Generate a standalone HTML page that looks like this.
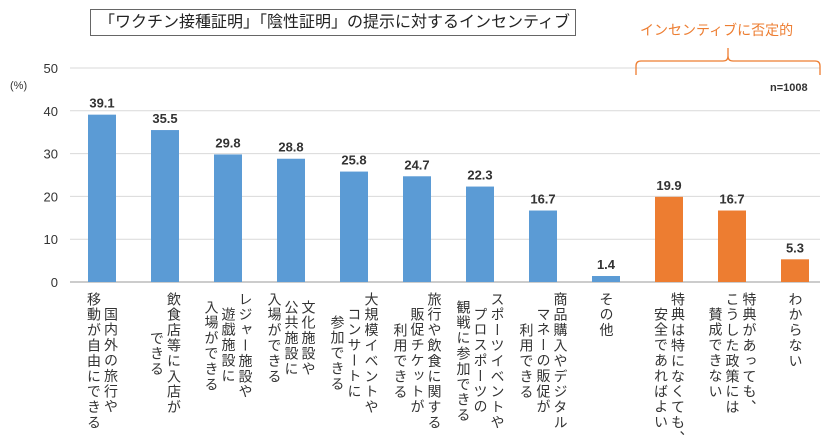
<!DOCTYPE html>
<html><head><meta charset="utf-8">
<style>
body{margin:0;background:#fff;}
#c{position:relative;width:840px;height:445px;overflow:hidden;font-family:"Liberation Sans","Noto Sans CJK JP",sans-serif;color:#333;}
.xl{position:absolute;top:292px;writing-mode:vertical-rl;text-orientation:upright;font-size:14px;line-height:17px;text-align:center;color:#333;letter-spacing:1.4px;transform:translateX(-50%);white-space:nowrap;}
</style></head><body>
<div id="c">
<div style="position:absolute;left:90px;top:9px;width:486px;height:27px;border:1px solid #666;box-sizing:border-box;font-size:16px;line-height:25px;padding-left:8px;color:#222;">「ワクチン接種証明」「陰性証明」の提示に対するインセンティブ</div>
<div style="position:absolute;left:640px;top:20px;font-size:14px;color:#ED7D31;">インセンティブに否定的</div>
<div style="position:absolute;left:10px;top:80px;font-size:11px;color:#333;">(%)</div>
<div style="position:absolute;left:770px;top:82px;font-size:11px;font-weight:bold;color:#333;">n=1008</div>
<svg id="svg" width="840" height="445" style="position:absolute;left:0;top:0"></svg>
</div>
<script>
const categories=["国内外の旅行や\n移動が自由にできる","飲食店等に入店が\nできる","レジャー施設や\n遊戯施設に\n入場ができる","文化施設や\n公共施設に\n入場ができる","大規模イベントや\nコンサートに\n参加できる","旅行や飲食に関する\n販促チケットが\n利用できる","スポーツイベントや\nプロスポーツの\n観戦に参加できる","商品購入やデジタル\nマネーの販促が\n利用できる","その他","特典は特になくても、\n安全であればよい","特典があっても、\nこうした政策には\n賛成できない","わからない"];
const values=[39.1,35.5,29.8,28.8,25.8,24.7,22.3,16.7,1.4,19.9,16.7,5.3];
const negative=[0,0,0,0,0,0,0,0,0,1,1,1];
const yTicks=[0,10,20,30,40,50];
const NS="http://www.w3.org/2000/svg";
const svg=document.getElementById('svg');
const c=document.getElementById('c');
const y0=282,yTop=68,yMax=50;
function ys(v){return y0-(v/yMax)*(y0-yTop);}
function xs(i){return 102+i*63;}
function mk(t,a){const e=document.createElementNS(NS,t);for(const k in a)e.setAttribute(k,a[k]);svg.appendChild(e);return e;}
yTicks.forEach(t=>{
  const g=mk('line',{x1:70,x2:820,y1:ys(t),y2:ys(t),stroke:t===0?'#999':'#d9d9d9','stroke-width':1});
  
  
  const tx=mk('text',{x:58,y:ys(t)+5,'text-anchor':'end','font-size':13,fill:'#333'});
  tx.textContent=t;
  
  
});
values.forEach((v,i)=>{
  const r=mk('rect',{x:xs(i)-14,y:ys(v),width:28,height:y0-ys(v),fill:negative[i]?'#ED7D31':'#5B9BD5'});
  
  
  const t=mk('text',{x:xs(i),y:ys(v)-7,'text-anchor':'middle','font-size':13,'font-weight':'bold',fill:'#333'});
  t.textContent=v.toFixed(1);
  
  
  const d=document.createElement('div');
  d.className='xl';
  d.style.left=xs(i)+'px';
  d.innerHTML=categories[i].replace(/\n/g,'<br>');
  
  
  c.appendChild(d);
});
const first=negative.indexOf(1),last=negative.lastIndexOf(1);
const bx1=xs(first)-33,bx2=xs(last)+25,mid=(bx1+bx2)/2;
const br=mk('path',{d:`M${bx1},75 L${bx1},66 Q${bx1},61 ${bx1+5},61 L${mid-5},61 Q${mid},61 ${mid},56 L${mid},48 M${mid},56 Q${mid},61 ${mid+5},61 L${bx2-5},61 Q${bx2},61 ${bx2},66 L${bx2},75`,fill:'none',stroke:'#ED7D31','stroke-width':1.3});


</script>
</body></html>
